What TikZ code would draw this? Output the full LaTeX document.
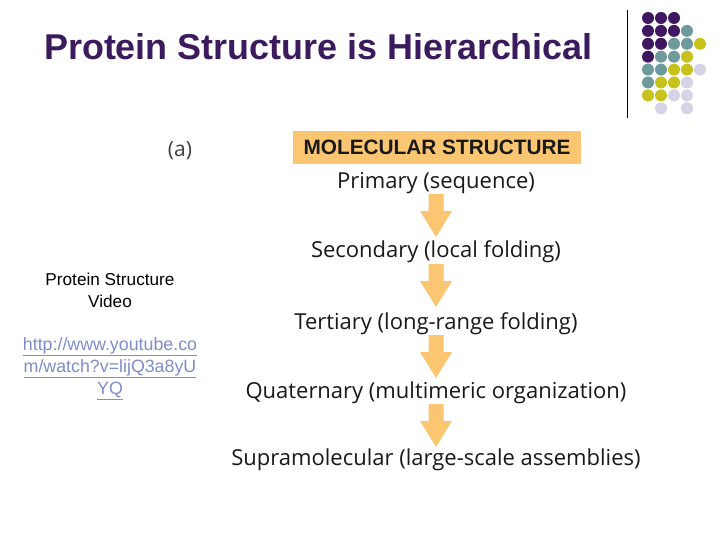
\documentclass[tikz,border=0pt]{standalone}
\usepackage{fontspec}
\setmainfont{Liberation Sans}
\newfontfamily\lblfont{Open Sans}
\definecolor{titlepurple}{HTML}{3B1A5E}
\definecolor{dotP}{HTML}{3F1660}
\definecolor{dotT}{HTML}{6E9A9B}
\definecolor{dotY}{HTML}{C8C21C}
\definecolor{dotL}{HTML}{D4D4E6}
\definecolor{orangeA}{HTML}{FBC671}
\definecolor{urlblue}{HTML}{7F8DC9}
\begin{document}
\begin{tikzpicture}[x=1pt,y=-1pt,
  lvl/.style={font=\lblfont\fontsize{22}{26}\selectfont, text=black!90, inner sep=0pt, anchor=base},
  blockarrow/.style={fill=orangeA, draw=none},
  dotstyle/.style={circle, minimum size=12pt, inner sep=0pt, draw=none}]
\useasboundingbox (0,0) rectangle (720,540);
\fill[white] (0,0) rectangle (720,540);
% title
\node[anchor=base, text=titlepurple, inner sep=0pt, font=\bfseries\fontsize{35.9}{40}\selectfont] (title) at (318.5,60) {Protein Structure is Hierarchical};
% decorative line and dots
\coordinate (lt) at (627,10);
\coordinate (lb) at (627,118);
\draw[line width=1pt, black] (lt) -- (lb);
\foreach \c/\r/\col in {0/0/dotP,1/0/dotP,2/0/dotP,
  0/1/dotP,1/1/dotP,2/1/dotP,3/1/dotT,
  0/2/dotP,1/2/dotP,2/2/dotT,3/2/dotT,4/2/dotY,
  0/3/dotP,1/3/dotT,2/3/dotT,3/3/dotY,
  0/4/dotT,1/4/dotT,2/4/dotY,3/4/dotY,4/4/dotL,
  0/5/dotT,1/5/dotY,2/5/dotY,3/5/dotL,
  0/6/dotY,1/6/dotY,2/6/dotL,3/6/dotL,
  1/7/dotL,3/7/dotL}{
  \node[dotstyle, fill=\col] (d\c\r) at ({648+13*\c},{18+12.9*\r}) {};
}
% (a)
\node[lvl, text=black!75, font=\lblfont\fontsize{21}{24}\selectfont] (alabel) at (180,157) {(a)};
% header box
\node[fill=orangeA, minimum width=288pt, minimum height=33pt, inner sep=0pt, font=\bfseries\fontsize{20.8}{24}\selectfont, text=black!90] (hdr) at (437,147.5) {MOLECULAR STRUCTURE};
% levels
\node[lvl] (prim) at (436,189) {Primary (sequence)};
\node[lvl] (sec) at (436,258) {Secondary (local folding)};
\node[lvl] (ter) at (436,329) {Tertiary (long-range folding)};
\node[lvl] (qua) at (436,398) {Quaternary (multimeric organization)};
\node[lvl] (sup) at (436,465.5) {Supramolecular (large-scale assemblies)};
% arrows
\foreach \t/\b/\n in {194/237/a1, 264/307/a2, 335/378/a3, 404/447/a4}{
  \coordinate (\n) at (436,\t);
  \fill[blockarrow] (428.5,\t) -- (443.5,\t) -- (443.5,{\b-26}) -- (452,{\b-26}) -- (436,\b) -- (420,{\b-26}) -- (428.5,{\b-26}) -- cycle;
}
% left text
\node[align=center, font=\fontsize{17.2}{22}\selectfont, inner sep=0pt, anchor=base] (vid) at (110,307) {Protein Structure\\Video};
\node[align=center, font=\fontsize{17.8}{22}\selectfont, text=urlblue, inner sep=0pt, anchor=north] (url) at (110,337) {\underline{http://www.youtube.co}\\\underline{m/watch?v=lijQ3a8yU}\\\underline{YQ}};
\end{tikzpicture}
\end{document}
